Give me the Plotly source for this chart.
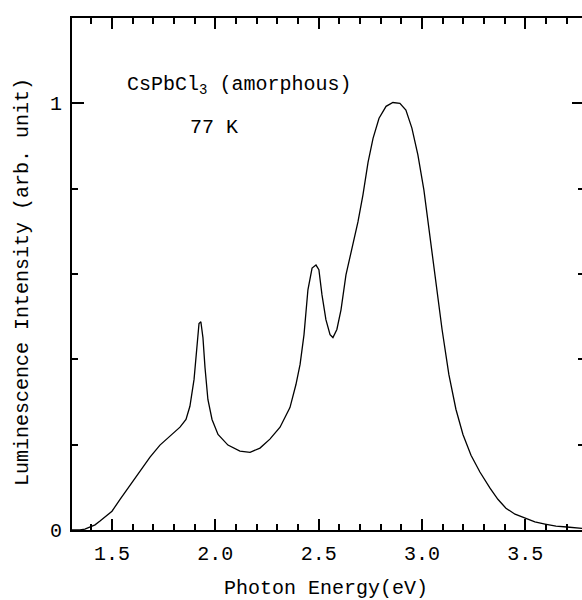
import plotly.graph_objects as go

# Photon energy (eV) and normalized luminescence intensity
energy = [1.306, 1.345, 1.369, 1.394, 1.418, 1.442, 1.466, 1.500, 1.539, 1.587,
          1.635, 1.684, 1.732, 1.781, 1.829, 1.858, 1.877, 1.897, 1.911, 1.921,
          1.930, 1.940, 1.950, 1.964, 1.984, 2.013, 2.061, 2.119, 2.168, 2.216,
          2.264, 2.313, 2.361, 2.390, 2.410, 2.429, 2.448, 2.468, 2.487, 2.501,
          2.516, 2.535, 2.555, 2.569, 2.588, 2.608, 2.632, 2.661, 2.690, 2.714,
          2.739, 2.763, 2.792, 2.826, 2.859, 2.893, 2.922, 2.951, 2.980, 3.009,
          3.038, 3.068, 3.097, 3.130, 3.164, 3.198, 3.237, 3.280, 3.329, 3.367,
          3.406, 3.450, 3.498, 3.546, 3.595, 3.648, 3.701, 3.740, 3.774]
intensity = [0.000, 0.000, 0.002, 0.007, 0.012, 0.021, 0.030, 0.044, 0.072, 0.105,
             0.138, 0.171, 0.199, 0.220, 0.241, 0.259, 0.290, 0.353, 0.435, 0.484,
             0.488, 0.451, 0.381, 0.306, 0.259, 0.224, 0.199, 0.185, 0.182, 0.192,
             0.213, 0.241, 0.287, 0.341, 0.388, 0.458, 0.563, 0.614, 0.621, 0.610,
             0.551, 0.493, 0.458, 0.451, 0.470, 0.516, 0.598, 0.661, 0.722, 0.785,
             0.862, 0.918, 0.965, 0.993, 1.002, 1.000, 0.984, 0.942, 0.879, 0.797,
             0.692, 0.575, 0.470, 0.364, 0.283, 0.224, 0.175, 0.136, 0.098, 0.072,
             0.051, 0.037, 0.028, 0.019, 0.014, 0.009, 0.007, 0.005, 0.004]

x_ticks = [1.5, 2.0, 2.5, 3.0, 3.5]
x_ticktext = ["1.5", "2.0", "2.5", "3.0", "3.5"]
y_ticks = [0, 1]
y_ticktext = ["0", "1"]

x_range = [1.3065, 3.774]
y_range = [0, 1.2]

FONT = "Liberation Mono"

fig = go.Figure()
fig.add_trace(go.Scatter(x=energy, y=intensity, mode="lines",
                         line=dict(color="black", width=1.3), showlegend=False,
                         hoverinfo="skip"))

fig.update_layout(
    width=582, height=600,
    margin=dict(l=72, r=0, t=18, b=70),
    paper_bgcolor="white", plot_bgcolor="white",
    font=dict(family=FONT, size=20, color="black"),
    xaxis=dict(range=x_range, showgrid=False, zeroline=False,
               showline=True, linecolor="black", linewidth=2, mirror="ticks",
               ticks="inside", ticklen=11, tickwidth=2, tickcolor="black",
               tickvals=x_ticks, ticktext=x_ticktext, ticklabelstandoff=4,
               minor=dict(dtick=0.1, tick0=0, ticks="inside", ticklen=6,
                          tickwidth=2, tickcolor="black", showgrid=False)),
    yaxis=dict(range=y_range, showgrid=False, zeroline=False,
               showline=True, linecolor="black", linewidth=2, mirror=False,
               ticks="inside", ticklen=12, tickwidth=2, tickcolor="black",
               tickvals=y_ticks, ticktext=y_ticktext, ticklabelstandoff=4,
               minor=dict(dtick=0.2, tick0=0, ticks="inside", ticklen=6,
                          tickwidth=2, tickcolor="black", showgrid=False)),
    yaxis2=dict(range=y_range, overlaying="y", side="right", showgrid=False,
                zeroline=False, showline=False, showticklabels=False,
                ticks="inside", ticklen=10, tickwidth=2, tickcolor="black",
                tickvals=[1],
                minor=dict(dtick=0.2, tick0=0, ticks="inside", ticklen=4,
                           tickwidth=2, tickcolor="black", showgrid=False)),
)

fig.add_trace(go.Scatter(x=[1.4], y=[0.5], yaxis="y2", mode="markers",
                         marker=dict(opacity=0), showlegend=False,
                         hoverinfo="skip"))

fig.add_annotation(text="CsPbCl<sub>3</sub> (amorphous)", xref="paper", yref="paper",
                   x=(125 - 72) / 510, y=(530 - 85) / 512, xanchor="left",
                   yanchor="middle", showarrow=False, font=dict(size=20))
fig.add_annotation(text="77 K", xref="paper", yref="paper",
                   x=(188 - 72) / 510, y=(530 - 127) / 512, xanchor="left",
                   yanchor="middle", showarrow=False, font=dict(size=20))
fig.add_annotation(text="Photon Energy(eV)", xref="paper", yref="paper",
                   x=(326 - 72) / 510, y=(530 - 588) / 512, xanchor="center",
                   yanchor="middle", showarrow=False, font=dict(size=20))
fig.add_annotation(text="Luminescence Intensity (arb. unit)", xref="paper",
                   yref="paper", x=(22 - 72) / 510, y=(530 - 282) / 512,
                   xanchor="center", yanchor="middle", textangle=-90,
                   showarrow=False, font=dict(size=20))

fig.write_html("out.html",
               config={"displayModeBar": False},
               post_script="document.body.style.margin='0';"
                           "document.body.style.overflow='hidden';")
